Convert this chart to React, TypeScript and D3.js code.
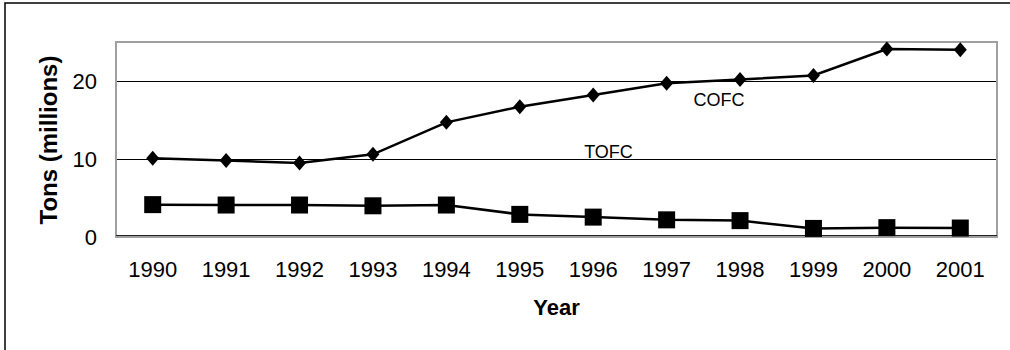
import React from "react";
import * as d3 from "d3";

const years = ["1990","1991","1992","1993","1994","1995","1996","1997","1998","1999","2000","2001"];
const cofc = [10.1, 9.8, 9.5, 10.6, 14.7, 16.7, 18.2, 19.7, 20.2, 20.7, 24.1, 24.0];
const tofc = [4.15, 4.1, 4.1, 4.0, 4.1, 2.9, 2.55, 2.2, 2.1, 1.1, 1.2, 1.15];
const yTicks = [0, 10, 20];
const gridTicks = [10, 20];

export default function App() {
  const W = 1010, H = 350;
  const left = 116, right = 997, top = 42, bottom = 237;
  const x = d3.scaleBand<string>().domain(years).range([left, right]);
  const cx = (d: string) => (x(d) as number) + x.bandwidth() / 2;
  const y = d3.scaleLinear().domain([0, 25]).range([bottom, top]);
  const line = d3.line<number>().x((_, i) => cx(years[i])).y((v) => y(v));
  const font = "Arial, 'Liberation Sans', sans-serif";
  return (
    <svg width={W} height={H} style={{ position: "absolute", left: 0, top: 0, background: "#fff" }}>
      <rect x={5} y={3} width={1020} height={360} fill="#fff" stroke="#000" strokeWidth={1.5} />
      {gridTicks.map((t) => (
        <line key={t} x1={left} x2={right} y1={Math.round(y(t)) + 0.5} y2={Math.round(y(t)) + 0.5} stroke="#000" strokeWidth={1} />
      ))}
      <rect x={left} y={top} width={right - left} height={bottom - top} fill="none" stroke="#a0a0a0" strokeWidth={2} />
      <line x1={left} x2={right} y1={bottom - 1.5} y2={bottom - 1.5} stroke="#222" strokeWidth={1} />
      <path d={line(cofc) || ""} fill="none" stroke="#000" strokeWidth={2.5} />
      <path d={line(tofc) || ""} fill="none" stroke="#000" strokeWidth={2.5} />
      {cofc.map((v, i) => {
        const px = cx(years[i]), py = y(v);
        return (
          <path key={"d" + i} d={`M${px},${py - 7.5}L${px + 6.5},${py}L${px},${py + 7.5}L${px - 6.5},${py}Z`} fill="#000" />
        );
      })}
      {tofc.map((v, i) => {
        const px = cx(years[i]), py = y(v);
        return <rect key={"s" + i} x={px - 8.5} y={py - 8.5} width={17} height={17} fill="#000" />;
      })}
      {yTicks.map((t) => (
        <text key={t} x={97} y={y(t)} dy="0.36em" textAnchor="end" fontFamily={font} fontSize={22} fill="#000">{t}</text>
      ))}
      {years.map((yr) => (
        <text key={yr} x={cx(yr)} y={277} textAnchor="middle" fontFamily={font} fontSize={22} fill="#000">{yr}</text>
      ))}
      <text x={(left + right) / 2} y={315} textAnchor="middle" fontFamily={font} fontSize={22} fontWeight="bold" fill="#000">Year</text>
      <text transform={`translate(57,140) rotate(-90)`} textAnchor="middle" fontFamily={font} fontSize={24} fontWeight="bold" fill="#000">Tons (millions)</text>
      <text x={719} y={106} textAnchor="middle" fontFamily={font} fontSize={18} fill="#000">COFC</text>
      <text x={608.5} y={158} textAnchor="middle" fontFamily={font} fontSize={18} fill="#000">TOFC</text>
    </svg>
  );
}
